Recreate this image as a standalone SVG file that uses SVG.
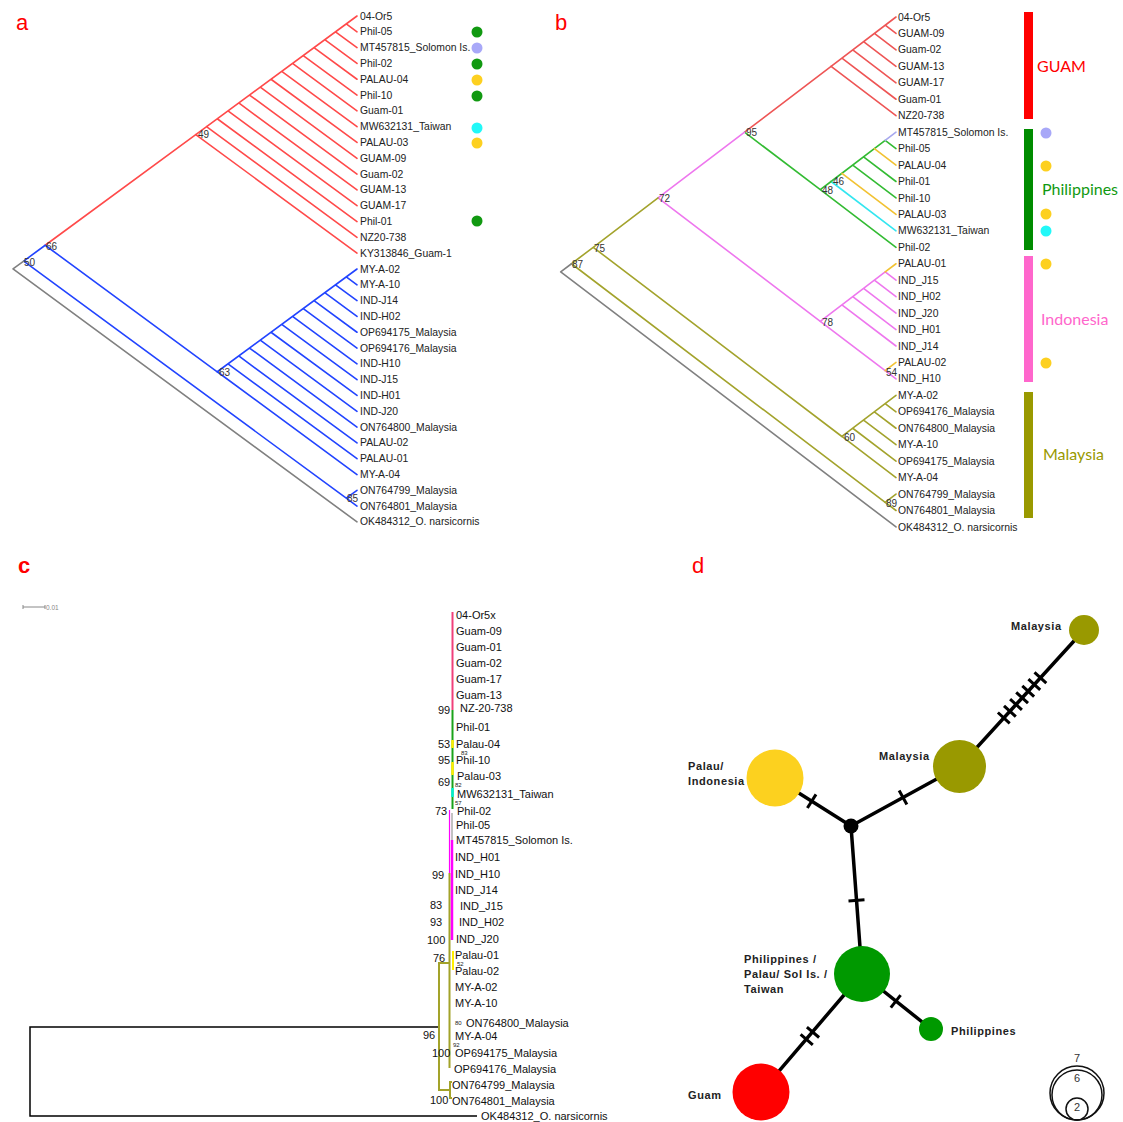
<svg xmlns="http://www.w3.org/2000/svg" width="1123" height="1122" viewBox="0 0 1123 1122">
<style>
text{font-family:"Liberation Sans",Arial,sans-serif}
.pl{font-size:22px;fill:#ff0000}
.lb{font-size:10.4px;fill:#222}
.bs{font-size:10px;fill:#333}
.lc{font-size:11px;fill:#111}
.sm{font-size:6px;fill:#222}
.ln{fill:none;stroke-width:1.6;stroke-linejoin:round;stroke-linecap:round}
.cmb path{vector-effect:non-scaling-stroke}
.ra{stroke:#ff4a4a}.ba{stroke:#2244ff}.gy{stroke:#808080}
.rb{stroke:#ee5555}.gb{stroke:#33bb33}.pb{stroke:#ee77ee}.ob{stroke:#a3a32c}.yb{stroke:#f2c232}.cb{stroke:#33e6f0}.vb{stroke:#a8a8ee}
.reg{font-family:Lato,"Open Sans",sans-serif;font-size:16px}
.nd{font-weight:bold;font-size:11px;letter-spacing:0.6px;fill:#222}
.net{stroke:#000;stroke-width:3.5;fill:none}
.hash{stroke:#000;stroke-width:3;fill:none}
.lg{fill:none;stroke:#111;stroke-width:1.5}
.lgt{font-size:11px;fill:#333;text-anchor:middle}
</style>

<!-- Panel labels -->
<text class="pl" x="16" y="30">a</text>
<text class="pl" x="555" y="30">b</text>
<text class="pl" x="18" y="573" font-weight="bold">c</text>
<text class="pl" x="692" y="573">d</text>

<!-- ================= PANEL A ================= -->
<g id="panel-a">
 <g id="a-connectors">
  <g class="ln ra cmb" transform="translate(357,16) scale(10.75,7.905)">
   <path d="M-15,15L0,0M-1,1L0,2M-2,2L0,4M-3,3L0,6M-4,4L0,8M-5,5L0,10M-6,6L0,12M-7,7L0,14M-8,8L0,16M-9,9L0,18M-10,10L0,20M-11,11L0,22M-12,12L0,24M-13,13L0,26M-14,14L0,28M-15,15L0,30"/>
  </g>
  <g class="ln ba cmb" transform="translate(357,269) scale(10.75,7.905)">
   <path d="M-13,13L0,0M-1,1L0,2M-2,2L0,4M-3,3L0,6M-4,4L0,8M-5,5L0,10M-6,6L0,12M-7,7L0,14M-8,8L0,16M-9,9L0,18M-10,10L0,20M-11,11L0,22M-12,12L0,24M-13,13L0,26"/>
  </g>
  <path class="ln ra" d="M45.2,245.25L195.75,134.6"/>
  <path class="ln ba" d="M45.2,245.25L217.25,371.8M23.7,261.05L45.2,245.25M23.7,261.05L346.25,498.2M357,490.3L346.25,498.2L357,506.1"/>
  <path class="ln gy" d="M357,521.9L13,268.95L23.7,261.05"/>
 </g>
 <g id="a-support" class="bs">
  <text x="198" y="138">49</text>
  <text x="46" y="250">66</text>
  <text x="24" y="266">50</text>
  <text x="219" y="376">63</text>
  <text x="347" y="502">85</text>
 </g>
 <g id="a-tips" class="lb">
  <text x="360" y="19.5">04-Or5</text>
  <text x="360" y="35.3">Phil-05</text>
  <text x="360" y="51.1">MT457815_Solomon Is.</text>
  <text x="360" y="66.9">Phil-02</text>
  <text x="360" y="82.7">PALAU-04</text>
  <text x="360" y="98.6">Phil-10</text>
  <text x="360" y="114.4">Guam-01</text>
  <text x="360" y="130.2">MW632131_Taiwan</text>
  <text x="360" y="146">PALAU-03</text>
  <text x="360" y="161.8">GUAM-09</text>
  <text x="360" y="177.6">Guam-02</text>
  <text x="360" y="193.4">GUAM-13</text>
  <text x="360" y="209.2">GUAM-17</text>
  <text x="360" y="225">Phil-01</text>
  <text x="360" y="240.8">NZ20-738</text>
  <text x="360" y="256.7">KY313846_Guam-1</text>
  <text x="360" y="272.5">MY-A-02</text>
  <text x="360" y="288.3">MY-A-10</text>
  <text x="360" y="304.1">IND-J14</text>
  <text x="360" y="319.9">IND-H02</text>
  <text x="360" y="335.7">OP694175_Malaysia</text>
  <text x="360" y="351.5">OP694176_Malaysia</text>
  <text x="360" y="367.3">IND-H10</text>
  <text x="360" y="383.1">IND-J15</text>
  <text x="360" y="398.9">IND-H01</text>
  <text x="360" y="414.8">IND-J20</text>
  <text x="360" y="430.6">ON764800_Malaysia</text>
  <text x="360" y="446.4">PALAU-02</text>
  <text x="360" y="462.2">PALAU-01</text>
  <text x="360" y="478">MY-A-04</text>
  <text x="360" y="493.8">ON764799_Malaysia</text>
  <text x="360" y="509.6">ON764801_Malaysia</text>
  <text x="360" y="525.4">OK484312_O. narsicornis</text>
 </g>
 <g id="a-dots">
  <circle cx="477" cy="32" r="5.5" fill="#119911"/>
  <circle cx="477" cy="48" r="5.5" fill="#a8a8f8"/>
  <circle cx="477" cy="64" r="5.5" fill="#119911"/>
  <circle cx="477" cy="80" r="5.5" fill="#fdd020"/>
  <circle cx="477" cy="96" r="5.5" fill="#119911"/>
  <circle cx="477" cy="128" r="5.5" fill="#22f8f8"/>
  <circle cx="477" cy="143" r="5.5" fill="#fdd020"/>
  <circle cx="477" cy="221" r="5.5" fill="#119911"/>
 </g>
</g>

<!-- ================= PANEL B ================= -->
<g id="panel-b">
 <g id="b-connectors">
  <g class="ln rb cmb" transform="translate(896,17) scale(10.816,8.225)">
   <path d="M-6,6L0,0M-1,1L0,2M-2,2L0,4M-3,3L0,6M-4,4L0,8M-5,5L0,10M-6,6L0,12"/>
  </g>
  <g class="ln cmb" transform="translate(896,132.15) scale(10.816,8.225)">
   <path class="gb" d="M-6,6L-1,1M-1,1L0,2M-3,3L0,6M-4,4L0,8"/>
   <path class="vb" d="M-1,1L0,0"/>
   <path class="yb" d="M-2,2L0,4M-5,5L0,10"/>
   <path class="cb" d="M-6,6L0,12"/>
  </g>
  <g class="ln cmb" transform="translate(896,263.75) scale(10.816,8.225)">
   <path class="pb" d="M-7,7L-1,1M-1,1L0,2M-2,2L0,4M-3,3L0,6M-4,4L0,8M-5,5L0,10M-7,7L-1,13M-1,13L0,14"/>
   <path class="yb" d="M-1,1L0,0M-1,13L0,12"/>
  </g>
  <g class="ln ob cmb" transform="translate(896,395.35) scale(10.816,8.225)">
   <path d="M-5,5L0,0M-1,1L0,2M-2,2L0,4M-3,3L0,6M-4,4L0,8M-5,5L0,10"/>
  </g>
  <g class="ln ob cmb" transform="translate(896,494.05) scale(10.816,8.225)">
   <path d="M0,0L-1,1L0,2"/>
  </g>
  <path class="ln rb" d="M744.6,132.15L831.1,66.35"/>
  <path class="ln gb" d="M744.6,132.15L820.3,189.7L831.1,181.5M820.3,189.7L896,247.3"/>
  <path class="ln pb" d="M744.6,132.15L658.05,197.95L820.3,321.3"/>
  <path class="ln ob" d="M658.05,197.95L593.2,247.3L841.9,436.5M593.2,247.3L571.5,263.75L885.2,502.3"/>
  <path class="ln gy" d="M571.5,263.75L560.7,271.98L896,526.95"/>
 </g>
 <g id="b-support" class="bs">
  <text x="746" y="136">95</text>
  <text x="659" y="202">72</text>
  <text x="594" y="252">75</text>
  <text x="572" y="268">87</text>
  <text x="822" y="194">48</text>
  <text x="833" y="185">46</text>
  <text x="822" y="326">78</text>
  <text x="844" y="441">60</text>
  <text x="886" y="376">54</text>
  <text x="886" y="507">89</text>
 </g>
 <g id="b-tips" class="lb">
  <text x="898" y="20.5">04-Or5</text>
  <text x="898" y="37">GUAM-09</text>
  <text x="898" y="53.4">Guam-02</text>
  <text x="898" y="69.9">GUAM-13</text>
  <text x="898" y="86.3">GUAM-17</text>
  <text x="898" y="102.8">Guam-01</text>
  <text x="898" y="119.2">NZ20-738</text>
  <text x="898" y="135.7">MT457815_Solomon Is.</text>
  <text x="898" y="152.1">Phil-05</text>
  <text x="898" y="168.6">PALAU-04</text>
  <text x="898" y="185">Phil-01</text>
  <text x="898" y="201.5">Phil-10</text>
  <text x="898" y="217.9">PALAU-03</text>
  <text x="898" y="234.4">MW632131_Taiwan</text>
  <text x="898" y="250.8">Phil-02</text>
  <text x="898" y="267.3">PALAU-01</text>
  <text x="898" y="283.7">IND_J15</text>
  <text x="898" y="300.2">IND_H02</text>
  <text x="898" y="316.6">IND_J20</text>
  <text x="898" y="333.1">IND_H01</text>
  <text x="898" y="349.5">IND_J14</text>
  <text x="898" y="366">PALAU-02</text>
  <text x="898" y="382.4">IND_H10</text>
  <text x="898" y="398.9">MY-A-02</text>
  <text x="898" y="415.3">OP694176_Malaysia</text>
  <text x="898" y="431.8">ON764800_Malaysia</text>
  <text x="898" y="448.2">MY-A-10</text>
  <text x="898" y="464.7">OP694175_Malaysia</text>
  <text x="898" y="481.1">MY-A-04</text>
  <text x="898" y="497.6">ON764799_Malaysia</text>
  <text x="898" y="514">ON764801_Malaysia</text>
  <text x="898" y="530.5">OK484312_O. narsicornis</text>
 </g>
 <g id="b-groups">
  <rect x="1024" y="12" width="9" height="107" fill="#ff0000"/>
  <rect x="1024" y="129" width="9" height="121" fill="#008c00"/>
  <rect x="1024" y="256" width="9" height="126" fill="#ff66cc"/>
  <rect x="1024" y="392" width="9" height="126" fill="#999900"/>
  <text class="reg" x="1037" y="72" fill="#ff0000">GUAM</text>
  <text class="reg" x="1042" y="195" fill="#119911">Philippines</text>
  <text class="reg" x="1041" y="325" fill="#ff66cc">Indonesia</text>
  <text class="reg" x="1043" y="460" fill="#999900">Malaysia</text>
 </g>
 <g id="b-dots">
  <circle cx="1046" cy="133" r="5.5" fill="#a8a8f8"/>
  <circle cx="1046" cy="166" r="5.5" fill="#fdd020"/>
  <circle cx="1046" cy="214" r="5.5" fill="#fdd020"/>
  <circle cx="1046" cy="231" r="5.5" fill="#22f8f8"/>
  <circle cx="1046" cy="264" r="5.5" fill="#fdd020"/>
  <circle cx="1046" cy="363" r="5.5" fill="#fdd020"/>
 </g>
</g>

<!-- ================= PANEL C ================= -->
<g id="panel-c">
 <g id="c-scale">
  <path d="M23,607H45M23,605V609M45,605V609" stroke="#888" stroke-width="1" fill="none"/>
  <text x="46" y="610" font-size="6.5" fill="#888">0.01</text>
 </g>
 <g id="c-connectors" fill="none">
  <path d="M439,1027H30V1116H477" stroke="#000" stroke-width="1.5"/>
  <path d="M449.5,873V1068" stroke="#a3a32a" stroke-width="2"/>
  <path d="M450,963H439V1090H450M452,1082H450V1098H452" stroke="#a3a32a" stroke-width="2"/>
  <path d="M452.5,612V710" stroke="#f0407a" stroke-width="2"/>
  <path d="M452.5,710V809" stroke="#1aa31a" stroke-width="2"/>
  <path d="M452.5,740V748M452.5,762V775" stroke="#ffee00" stroke-width="2.5"/>
  <path d="M452.5,788V797" stroke="#00f0d0" stroke-width="2.5"/>
  <path d="M452,813V840" stroke="#999" stroke-width="1.2"/>
  <path d="M449.5,810V873" stroke="#ff00ff" stroke-width="1.2"/>
  <path d="M452,840V940" stroke="#ff00ff" stroke-width="2.5"/>
  <path d="M453,951V970" stroke="#ffee00" stroke-width="2"/>
 </g>
 <g id="c-support" class="lc">
  <text x="438" y="714">99</text>
  <text x="438" y="748">53</text>
  <text x="438" y="764">95</text>
  <text x="438" y="786">69</text>
  <text x="435" y="815">73</text>
  <text x="432" y="879">99</text>
  <text x="430" y="909">83</text>
  <text x="430" y="926">93</text>
  <text x="427" y="944">100</text>
  <text x="433" y="962">76</text>
  <text x="423" y="1039">96</text>
  <text x="432" y="1057">100</text>
  <text x="430" y="1104">100</text>
  <text class="sm" x="461" y="755">83</text>
  <text class="sm" x="455" y="787">82</text>
  <text class="sm" x="455" y="804.5">57</text>
  <text class="sm" x="457" y="966">52</text>
  <text class="sm" x="455" y="1025">80</text>
  <text class="sm" x="453" y="1047">92</text>
 </g>
 <g id="c-tips" class="lc">
  <text x="456" y="619">04-Or5x</text>
  <text x="456" y="635">Guam-09</text>
  <text x="456" y="651">Guam-01</text>
  <text x="456" y="667">Guam-02</text>
  <text x="456" y="683">Guam-17</text>
  <text x="456" y="699">Guam-13</text>
  <text x="460" y="712">NZ-20-738</text>
  <text x="456" y="731">Phil-01</text>
  <text x="456" y="748">Palau-04</text>
  <text x="456" y="764">Phil-10</text>
  <text x="457" y="779.5">Palau-03</text>
  <text x="457" y="797.5">MW632131_Taiwan</text>
  <text x="457" y="815">Phil-02</text>
  <text x="456" y="829">Phil-05</text>
  <text x="456" y="844">MT457815_Solomon Is.</text>
  <text x="455" y="861">IND_H01</text>
  <text x="455" y="878">IND_H10</text>
  <text x="455" y="894">IND_J14</text>
  <text x="460" y="910">IND_J15</text>
  <text x="459" y="926">IND_H02</text>
  <text x="456" y="943">IND_J20</text>
  <text x="455" y="959">Palau-01</text>
  <text x="455" y="975">Palau-02</text>
  <text x="455" y="991">MY-A-02</text>
  <text x="455" y="1007">MY-A-10</text>
  <text x="466" y="1027">ON764800_Malaysia</text>
  <text x="455" y="1040">MY-A-04</text>
  <text x="455" y="1057">OP694175_Malaysia</text>
  <text x="454" y="1073">OP694176_Malaysia</text>
  <text x="452" y="1089">ON764799_Malaysia</text>
  <text x="452" y="1105">ON764801_Malaysia</text>
  <text x="481" y="1119.5">OK484312_O. narsicornis</text>
 </g>
</g>

<!-- ================= PANEL D ================= -->
<g id="panel-d">
 <g id="d-connectors">
  <path class="net" d="M1084,630L959.5,766.5M851,826L959.5,766.5M851,826L775,778M851,826L862,974M862,974L931,1029M862,974L761,1092"/>
  <path class="hash" d="M1034.5,672.4L1046.3,683.2M1028.4,679.1L1040.2,689.9M1022.3,685.8L1034.1,696.6M1016.2,692.4L1028,703.2M1010.1,699.1L1021.9,709.9M1004,705.8L1015.8,716.6M997.9,712.5L1009.7,723.3"/>
  <path class="hash" d="M899.15,790.5L906.85,804.5"/>
  <path class="hash" d="M807.4,808L816,794.4"/>
  <path class="hash" d="M848.5,901L864.5,899.8"/>
  <path class="hash" d="M890.8,1007.7L900.6,995.1"/>
  <path class="hash" d="M806.9,1027.1L819.1,1037.5M800.6,1034.4L812.8,1044.8"/>
 </g>
 <g id="hap-malaysia-2"><circle cx="1084" cy="630" r="15" fill="#999900"/><text class="nd" x="1011" y="630">Malaysia</text></g>
 <g id="hap-malaysia-1"><circle cx="959.5" cy="766.5" r="26.5" fill="#999900"/><text class="nd" x="879" y="760">Malaysia</text></g>
 <g id="hap-palau-indonesia"><circle cx="775" cy="778" r="28.5" fill="#fcd11f"/><text class="nd" x="688" y="770">Palau/</text><text class="nd" x="688" y="785">Indonesia</text></g>
 <g id="median-vector"><circle cx="851" cy="826" r="7.5" fill="#000"/></g>
 <g id="hap-philippines-main"><circle cx="862" cy="974" r="28" fill="#009900"/><text class="nd" x="744" y="963">Philippines /</text><text class="nd" x="744" y="978">Palau/ Sol Is. /</text><text class="nd" x="744" y="993">Taiwan</text></g>
 <g id="hap-philippines-2"><circle cx="931" cy="1029" r="12" fill="#009900"/><text class="nd" x="951" y="1035">Philippines</text></g>
 <g id="hap-guam"><circle cx="761" cy="1092" r="28.5" fill="#ff0000"/><text class="nd" x="688" y="1099">Guam</text></g>
 <g id="d-legend">
  <circle class="lg" cx="1077" cy="1093" r="27"/>
  <circle class="lg" cx="1077" cy="1095" r="25"/>
  <circle class="lg" cx="1077" cy="1109" r="11"/>
  <text class="lgt" x="1077" y="1062">7</text>
  <text class="lgt" x="1077" y="1082">6</text>
  <text class="lgt" x="1077" y="1111">2</text>
 </g>
</g>
</svg>
